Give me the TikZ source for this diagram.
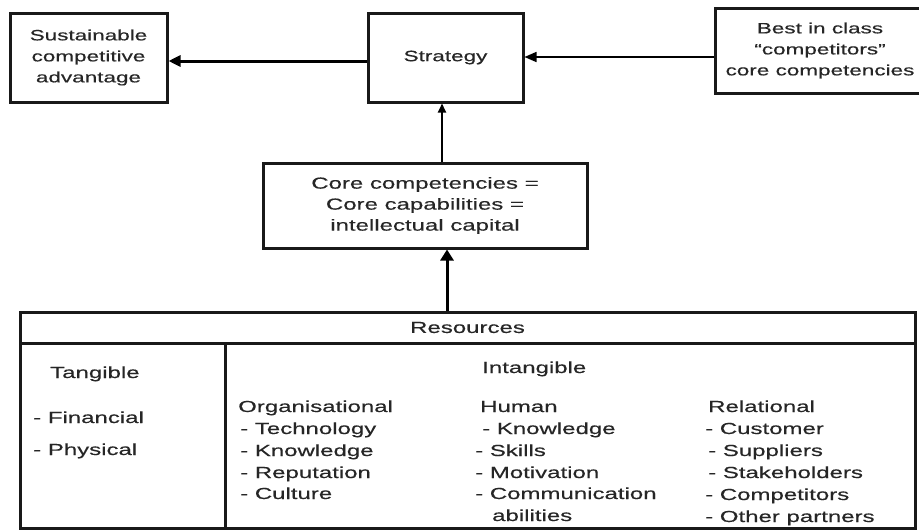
\documentclass[tikz,border=0pt]{standalone}
\usepackage{fontspec}
\setmainfont{Liberation Sans}[FakeStretch=1.5,FakeBold=0.35]
\usetikzlibrary{arrows.meta}
\begin{document}
\begin{tikzpicture}[x=1pt,y=-1pt,
  box/.style={draw=black!90, line width=3pt, align=center, inner sep=0pt,
    text=black!85, font=\fontsize{16}{21}\selectfont},
  topbox/.style={box, font=\fontsize{15}{21}\selectfont},
  lbl/.style={anchor=base west, inner sep=0pt, text=black!85,
    font=\fontsize{16}{22}\selectfont},
  cell/.style={draw=black!90, line width=3pt, inner sep=0pt, text=black!85,
    font=\fontsize{16}{22}\selectfont},
  thickarrow/.style={line width=3pt, -{Triangle[length=12pt,width=11pt]}},
  thinarrow/.style={line width=1.6pt, -{Triangle[length=12pt,width=10pt]}},
]
\fill[white] (0,0) rectangle (919,530);
\useasboundingbox (0,0) rectangle (919,530);

% top row
\node[topbox, minimum width=157pt, minimum height=89pt] (sca) at (88.5,57.5)
  {Sustainable\\competitive\\advantage};
\node[topbox, minimum width=155pt, minimum height=89pt] (strat) at (445.5,57.5)
  {Strategy};
\node[topbox, minimum width=210pt, minimum height=85pt] (best) at (820,50.5)
  {Best in class\\``competitors''\\core competencies};

% middle box
\node[box, minimum width=324pt, minimum height=85pt] (core) at (425,205.5)
  {Core competencies =\\Core capabilities =\\intellectual capital};

% resources table
\node[cell, minimum width=895pt, minimum height=31pt] (res) at (467.5,327.5)
  {Resources};
\node[cell, minimum width=205pt, minimum height=185pt] (tang) at (122.5,435.5) {};
\node[cell, minimum width=690pt, minimum height=185pt] (intang) at (570,435.5) {};

% tangible column
\node[lbl] (tg) at (50,378) {Tangible};
\node[lbl] (tg1) at (33,423) {- Financial};
\node[lbl] (tg2) at (33,455) {- Physical};

% intangible columns
\node[lbl] (ig) at (482,373) {Intangible};

\node[lbl] (og) at (238,412) {Organisational};
\node[lbl] (og1) at (240,434) {- Technology};
\node[lbl] (og2) at (240,456) {- Knowledge};
\node[lbl] (og3) at (240,478) {- Reputation};
\node[lbl] (og4) at (240,499) {- Culture};

\node[lbl] (hu) at (480,412) {Human};
\node[lbl] (hu1) at (482,434) {- Knowledge};
\node[lbl] (hu2) at (475,456) {- Skills};
\node[lbl] (hu3) at (475,478) {- Motivation};
\node[lbl] (hu4) at (475,499) {- Communication};
\node[lbl] (hu5) at (492,521) {abilities};

\node[lbl] (re) at (708,412) {Relational};
\node[lbl] (re1) at (705,434) {- Customer};
\node[lbl] (re2) at (708,456) {- Suppliers};
\node[lbl] (re3) at (708,478) {- Stakeholders};
\node[lbl] (re4) at (705,500) {- Competitors};
\node[lbl] (re5) at (705,522) {- Other partners};

% connectors
\coordinate (s1) at (0,61);
\coordinate (s2) at (0,57);
\coordinate (c1) at (442,0);
\coordinate (r1) at (447,0);
\draw[thickarrow] (strat.west |- s1) -- (sca.east |- s1);
\draw[thinarrow] (best.west |- s2) -- (strat.east |- s2);
\draw[line width=2pt, -{Triangle[length=9pt,width=8pt]}] (core.north -| c1) -- (strat.south -| c1);
\draw[line width=3pt, -{Triangle[length=11pt,width=13pt]}] (res.north -| r1) -- (core.south -| r1);
\end{tikzpicture}
\end{document}
